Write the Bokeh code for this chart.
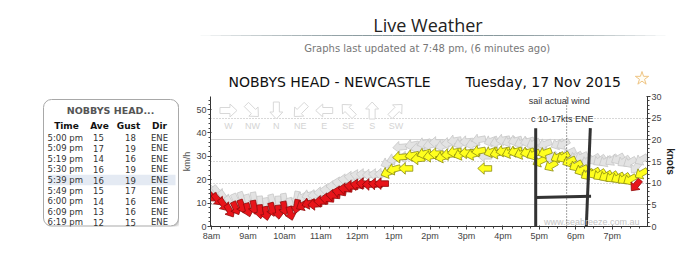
import math
from bokeh.plotting import figure
from bokeh.models import (Range1d, LinearAxis, FixedTicker, SingleIntervalTicker,
                          Span, Label, Grid)
from bokeh.layouts import column, row
from bokeh.embed import file_html
from bokeh.resources import INLINE
from bokeh.core.properties import value

# ---------------- data ----------------
page_title = "Live Weather"
updated_text = "Graphs last updated at 7:48 pm, (6 minutes ago)"
station_title = "NOBBYS HEAD - NEWCASTLE"
date_title = "Tuesday, 17 Nov 2015"
watermark = "www.seabreeze.com.au"

table_title = "NOBBYS HEAD..."
table_headers = ["Time", "Ave", "Gust", "Dir"]
table_times = ["5:00 pm", "5:09 pm", "5:19 pm", "5:30 pm", "5:39 pm",
               "5:49 pm", "6:00 pm", "6:09 pm", "6:19 pm"]
table_ave = [15, 17, 14, 16, 16, 15, 14, 13, 12]
table_gust = [18, 19, 16, 19, 19, 17, 16, 16, 15]
table_dir = ["ENE", "ENE", "ENE", "ENE", "ENE", "ENE", "ENE", "ENE", "ENE"]
table_highlight = "5:39 pm"

obs_times = [
    "8:00", "8:10", "8:20", "8:30", "8:40", "8:50",
    "9:00", "9:10", "9:20", "9:30", "9:40", "9:50",
    "10:00", "10:10", "10:20", "10:30", "10:40", "10:50",
    "11:00", "11:10", "11:20", "11:30", "11:40", "11:50",
    "12:00", "12:10", "12:20", "12:30", "12:40", "12:50",
    "13:00", "13:10", "13:20", "13:30", "13:40", "13:50",
    "14:00", "14:10", "14:20", "14:30", "14:40", "14:50",
    "15:00", "15:10", "15:20", "15:30", "15:40", "15:50",
    "16:00", "16:10", "16:20", "16:30", "16:40", "16:50",
    "17:00", "17:09", "17:19", "17:30", "17:39", "17:49",
    "18:00", "18:09", "18:19", "18:29", "18:39", "18:49",
    "18:59", "19:09", "19:19", "19:29", "19:39", "19:48"]
avg_knots = [
    7.0, 6.2, 5.0, 3.6, 4.2, 4.6,
    3.8, 4.4, 3.4, 3.0, 3.9, 3.3,
    4.2, 3.0, 4.6, 4.9, 5.3, 5.1,
    5.8, 6.4, 7.2, 8.0, 8.7, 9.3,
    9.6, 9.9, 9.7, 9.8, 9.9, 12.4,
    13.2, 16.0, 13.4, 16.4, 15.6, 16.8,
    16.2, 16.8, 16.0, 16.6, 17.2, 16.6,
    17.0, 16.6, 17.4, 13.4, 17.2, 16.9,
    17.4, 17.0, 17.3, 16.8, 17.1, 16.6,
    15.0, 17.0, 14.0, 16.0, 16.0, 15.0,
    14.0, 13.0, 12.0, 12.3, 11.9, 11.6,
    11.4, 11.2, 11.0, 10.8, 9.5, 12.2]
gust_knots = [
    8.5, 8.0, 6.8, 5.5, 6.0, 6.4,
    5.8, 6.3, 5.4, 5.0, 5.8, 5.4,
    6.0, 5.0, 6.5, 6.8, 7.2, 7.2,
    7.8, 8.4, 9.2, 10.1, 10.8, 11.4,
    11.8, 12.0, 11.9, 12.0, 12.1, 14.6,
    15.5, 18.3, 16.0, 18.8, 18.0, 19.2,
    18.8, 19.4, 18.6, 19.2, 19.8, 19.1,
    19.6, 19.0, 20.0, 16.2, 19.7, 19.4,
    20.0, 19.6, 19.8, 19.3, 19.6, 19.1,
    18.0, 19.0, 16.0, 19.0, 19.0, 17.0,
    16.0, 16.0, 15.0, 15.5, 15.2, 15.0,
    15.3, 15.6, 15.0, 14.8, 13.6, 15.4]
dir_from_deg = [
    315, 320, 325, 330, 335, 340,
    345, 350, 355, 350, 345, 355,
    350, 345, 10, 60, 75, 85,
    90, 95, 95, 100, 95, 95,
    100, 95, 90, 95, 90, 70,
    75, 85, 90, 80, 85, 75,
    80, 90, 75, 85, 80, 70,
    85, 75, 80, 90, 70, 75,
    80, 70, 75, 70, 75, 65,
    65, 70, 60, 65, 60, 65,
    60, 65, 60, 60, 55, 60,
    55, 60, 55, 60, 40, 60]

hour_ticks = [8, 9, 10, 11, 12, 13, 14, 15, 16, 17, 18, 19]
hour_labels = ["8am", "9am", "10am", "11am", "12pm", "1pm", "2pm", "3pm",
               "4pm", "5pm", "6pm", "7pm"]

compass_names = ["W", "NW", "N", "NE", "E", "SE", "S", "SW"]
compass_deg = [270, 315, 0, 45, 90, 135, 180, 225]

# hand-drawn notes on the chart (hours, knots)
note_lines_t = [[16.90, 16.90], [18.40, 18.28], [16.90, 18.42]]
note_lines_kn = [[22.7, -2.0], [22.7, -2.0], [6.7, 7.0]]
note_texts = ["sail actual wind", "c 10-17kts ENE"]
note_text_t = [16.71, 16.77]
note_text_kn = [28.97, 24.8]
marker_time = 17.75

KN2KMH = 1.852
KN_MAX = 30


def hrs(s):
    h, m = s.split(":")
    return int(h) + int(m) / 60.0


# ---------------- geometry ----------------
TOP_H = 92
CW, CH = 521, 255 - TOP_H
TW = 700 - CW
BL, BR, BT, BB = 30, 53, 4, 29
FW = CW - BL - BR
FH = CH - BT - BB
X0, X1 = 7.97, 19.97
XPP = (X1 - X0) / FW
YPP = KN_MAX / FH

FONT = "DejaVu Sans"
AXF = "Liberation Sans"


def arrow_poly(t, kn, deg, L=14.0, hs=2.8, hh=5.8, hl=6.5):
    ex = -math.sin(math.radians(deg))
    ny = -math.cos(math.radians(deg))
    a = math.atan2(ny, ex)
    ca, sa = math.cos(a), math.sin(a)
    pts = [(-L / 2, -hs), (L / 2 - hl, -hs), (L / 2 - hl, -hh), (L / 2, 0),
           (L / 2 - hl, hh), (L / 2 - hl, hs), (-L / 2, hs)]
    xs, ys = [], []
    for px, py in pts:
        rx = px * ca - py * sa
        ry = px * sa + py * ca
        xs.append(t + rx * XPP)
        ys.append(kn + ry * YPP)
    return xs, ys


p = figure(width=CW, height=CH, x_range=Range1d(X0, X1),
           y_range=Range1d(0, KN_MAX * KN2KMH),
           output_backend="svg", toolbar_location=None,
           min_border_left=BL, min_border_right=BR,
           min_border_top=BT, min_border_bottom=BB)
p.extra_y_ranges = {"kn": Range1d(0, KN_MAX)}
p.outline_line_color = None
p.background_fill_color = "white"
p.xgrid.visible = False
p.ygrid.visible = False

p.add_layout(Grid(dimension=1, y_range_name="kn", ticker=FixedTicker(ticks=[5, 20]),
                  grid_line_color="#d6d6d6", grid_line_width=1))
p.add_layout(Grid(dimension=1, y_range_name="kn", ticker=FixedTicker(ticks=[10, 15, 25]),
                  grid_line_color="#b0b0b0", grid_line_dash="1 2", grid_line_width=1))

xa = p.xaxis[0]
xa.ticker = FixedTicker(ticks=hour_ticks,
                        minor_ticks=[h + q / 4 for h in range(7, 20) for q in range(4)])
xa.major_label_overrides = {h: l for h, l in zip(hour_ticks, hour_labels)}
ya = p.yaxis[0]
ya.ticker = SingleIntervalTicker(interval=10, num_minor_ticks=5)
ya.axis_label = "km/h"
ya.axis_label_standoff = 1
ya.axis_label_text_font_style = "normal"
ya.axis_label_text_font_size = "9px"
ya.axis_label_text_font = AXF
ya.axis_label_text_color = "#555"

ra = LinearAxis(y_range_name="kn", ticker=SingleIntervalTicker(interval=5, num_minor_ticks=5),
                axis_label="knots")
p.add_layout(ra, "right")
ra.axis_label_standoff = 0
ra.axis_label_text_font_style = "bold"
ra.axis_label_text_font_size = "10px"
ra.axis_label_text_font = AXF
ra.axis_label_text_color = "#222"

for ax in [xa, ya, ra]:
    ax.axis_line_color = "#333"
    ax.major_tick_line_color = "#333"
    ax.minor_tick_line_color = "#444"
    ax.major_tick_in = 1
    ax.major_tick_out = 3
    ax.minor_tick_in = 0
    ax.minor_tick_out = 2
    ax.major_label_text_font = AXF
    ax.major_label_text_font_size = "9px"
    ax.major_label_text_color = "#444"
    ax.major_label_standoff = 1

# compass legend
leg_xs, leg_ys, leg_tx, leg_ty = [], [], [], []
for i, d in enumerate(compass_deg):
    cx = X0 + (18 + 24 * i) * XPP
    cy = 116 * YPP
    xs, ys = arrow_poly(cx, cy, d, L=17, hs=3.0, hh=6.5, hl=7.0)
    leg_xs.append(xs)
    leg_ys.append(ys)
    leg_tx.append(cx)
    leg_ty.append(101 * YPP)
p.patches(leg_xs, leg_ys, y_range_name="kn", fill_color="white",
          line_color="#d8d8d8", line_width=1)
p.text(leg_tx, leg_ty, text=compass_names, y_range_name="kn", text_align="center",
       text_baseline="middle", text_font=value(AXF), text_font_size="9px",
       text_color="#d4d4d4")

p.add_layout(Label(x=FW - 9, y=5, x_units="screen", y_units="screen", text=watermark,
                   text_align="right", text_baseline="alphabetic",
                   text_font=AXF, text_font_size="9px", text_color="#c4c4c4"))

times_h = [hrs(s) for s in obs_times]
gx, gy, ax_, ay_, fc, lc = [], [], [], [], [], []
for t, a, g, d in zip(times_h, avg_knots, gust_knots, dir_from_deg):
    xs, ys = arrow_poly(t, g, d)
    gx.append(xs)
    gy.append(ys)
    xs, ys = arrow_poly(t, a, d)
    ax_.append(xs)
    ay_.append(ys)
    if a < 10:
        fc.append("#e8141a")
        lc.append("#8e0a0a")
    else:
        fc.append("#ffff1e")
        lc.append("#8c8c10")
p.patches(gx, gy, y_range_name="kn", fill_color="#e3e3e3", line_color="#c6c6c6",
          line_width=0.8)
p.patches(ax_, ay_, y_range_name="kn", fill_color=fc, line_color=lc, line_width=0.8)

p.add_layout(Span(location=marker_time, dimension="height", line_color="#444",
                  line_dash="1 2", line_width=1))

p.multi_line(note_lines_t, note_lines_kn, y_range_name="kn", line_color="#333",
             line_width=3)
for txt, tt, kk in zip(note_texts, note_text_t, note_text_kn):
    p.add_layout(Label(x=tt, y=kk, y_range_name="kn", text=txt, text_align="left",
                       text_baseline="middle", text_font=AXF, text_font_size="9px",
                       text_color="#333"))

# ---------------- table panel (same top/bottom borders as the chart) ----------------
tb = figure(width=TW, height=CH, x_range=Range1d(0, TW),
            y_range=Range1d(255 - BB, TOP_H + BT),
            output_backend="svg", toolbar_location=None,
            min_border_left=0, min_border_right=0,
            min_border_top=BT, min_border_bottom=BB,
            x_axis_type=None, y_axis_type=None)
tb.outline_line_color = None
tb.grid.visible = False
for off, al in [(3, 0.04), (2, 0.07), (1, 0.11)]:
    tb.quad(left=[43 + off], right=[178 + off], top=[99 + off], bottom=[225.5 + off],
            fill_color="black", fill_alpha=al, line_color=None, border_radius=8)
tb.quad(left=[43], right=[178], top=[99], bottom=[225.5], fill_color="white",
        line_color="#a8a8a8", line_width=1, border_radius=8)
ROW0, ROWH = 137.3, 10.55
hi = table_times.index(table_highlight)
tb.quad(left=[48], right=[175], top=[ROW0 + hi * ROWH - 5.2], bottom=[ROW0 + hi * ROWH + 5.2],
        fill_color="#e4eaf3", line_color=None)
tb.text([110], [110], text=[table_title], text_align="center", text_baseline="middle",
        text_font=value(FONT), text_font_size="9.5px", text_font_style="bold",
        text_color="#555")
tb.text([66, 99, 128, 159], [125] * 4, text=table_headers, text_align="center",
        text_baseline="middle", text_font=value(FONT), text_font_size="9px",
        text_font_style="bold", text_color="#111")
rows_y = [ROW0 + i * ROWH for i in range(len(table_times))]
tb.text([47] * len(rows_y), rows_y, text=table_times, text_align="left",
        text_baseline="middle", text_font=value(FONT), text_font_size="8.5px",
        text_color="#333")
for xc, vals in [(98, table_ave), (130, table_gust), (159, table_dir)]:
    tb.text([xc] * len(rows_y), rows_y, text=[str(v) for v in vals], text_align="center",
            text_baseline="middle", text_font=value(FONT), text_font_size="8.5px",
            text_color="#333")

# ---------------- header strip ----------------
top = figure(width=700, height=TOP_H, x_range=Range1d(0, 700), y_range=Range1d(TOP_H, 0),
             output_backend="svg", toolbar_location=None, min_border=0,
             x_axis_type=None, y_axis_type=None)
top.outline_line_color = None
top.grid.visible = False
top.text([427.5], [24.3], text=[page_title], text_align="center",
         text_baseline="middle", text_font=value("Open Sans"),
         text_font_size="18px", text_color="#222")
n = 46
sx0, sx1 = 200.0, 665.0
segx0 = [sx0 + (sx1 - sx0) * i / n for i in range(n)]
segx1 = [sx0 + (sx1 - sx0) * (i + 1) / n for i in range(n)]
segal = [math.sin(math.pi * (i + 0.5) / n) ** 0.8 for i in range(n)]
top.segment(segx0, [35] * n, segx1, [35] * n, line_color="#7f9196",
            line_alpha=segal, line_width=1)
top.text([426.7], [48.0], text=[updated_text], text_align="center",
         text_baseline="middle", text_font=value(FONT), text_font_size="10px",
         text_color="#777")
top.text([228], [81.0], text=[station_title], text_align="left",
         text_baseline="middle", text_font=value(FONT), text_font_size="14px",
         text_color="#111")
top.text([465], [81.0], text=[date_title], text_align="left",
         text_baseline="middle", text_font=value(FONT), text_font_size="14px",
         text_color="#111")
top.scatter([641.5], [78], marker="star", size=14, fill_color="#fffdf5",
            line_color="#efc584", line_width=1)

layout = column(top, row(tb, p))
open("out.html", "w").write(file_html(layout, INLINE))
